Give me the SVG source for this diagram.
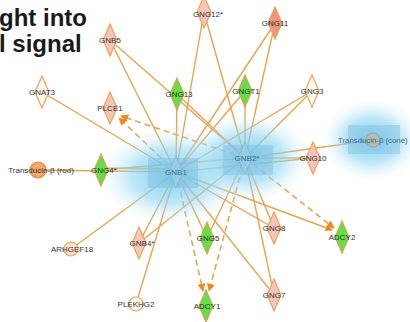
<svg xmlns="http://www.w3.org/2000/svg" width="410" height="322" viewBox="0 0 410 322">
<defs>
<radialGradient id="glow" cx="0.5" cy="0.5" r="0.5">
<stop offset="0" stop-color="#6cc8ee" stop-opacity="0.9"/>
<stop offset="0.55" stop-color="#8fd6f3" stop-opacity="0.6"/>
<stop offset="1" stop-color="#c8ecfa" stop-opacity="0"/>
</radialGradient>
<marker id="arr" viewBox="0 0 10 10" refX="9" refY="5" markerWidth="5" markerHeight="5" orient="auto">
<path d="M0,0 L10,5 L0,10 Z" fill="#f08a20"/>
</marker>
<path id="dia" d="M0,-16 L7,0 L0,16 L-7,0 Z"/>
</defs>
<style>
.e{stroke:#e6a550;stroke-width:1.4;fill:none}
.d{stroke:#e6a550;stroke-width:1.6;fill:none;stroke-dasharray:6 4}
.pk{fill:#f6c4b8;stroke:#e9a45a;stroke-width:1.2}
.sa{fill:#f19480;stroke:#e9a45a;stroke-width:1.2}
.gr{fill:#62e048;stroke:#e0a050;stroke-width:1.2}
.wh{fill:#fffaf2;stroke:#e9a45a;stroke-width:1.2}
.bl{fill:#9fd3ea;stroke:#8ab0c0;stroke-width:1}
.t{font-family:"Liberation Sans",Arial,sans-serif;font-size:8px;fill:#333;text-anchor:middle}
.tb{font-family:"Liberation Sans",Arial,sans-serif;font-size:8px;fill:#3a6c90;text-anchor:middle}
.title{font-family:"Liberation Sans",Arial,sans-serif;font-size:24px;font-weight:bold;fill:#1a1a1a}
</style>
<rect width="410" height="322" fill="#ffffff"/>
<text class="title" x="-1" y="26">ght into</text>
<text class="title" x="-1" y="52">l signal</text>
<g id="connectors">
<line class="e" x1="176" y1="172" x2="110" y2="40"/>
<line class="e" x1="245" y1="158" x2="110" y2="40"/>
<line class="e" x1="176" y1="172" x2="204" y2="12"/>
<line class="e" x1="245" y1="158" x2="204" y2="12"/>
<line class="e" x1="176" y1="172" x2="275" y2="23"/>
<line class="e" x1="245" y1="158" x2="275" y2="23"/>
<line class="e" x1="176" y1="172" x2="42" y2="92"/>
<line class="e" x1="176" y1="172" x2="177" y2="94"/>
<line class="e" x1="245" y1="158" x2="177" y2="94"/>
<line class="e" x1="176" y1="172" x2="245" y2="91"/>
<line class="e" x1="245" y1="158" x2="245" y2="91"/>
<line class="e" x1="176" y1="172" x2="312" y2="91"/>
<line class="e" x1="245" y1="158" x2="312" y2="91"/>
<line class="e" x1="176" y1="172" x2="313" y2="158"/>
<line class="e" x1="245" y1="158" x2="313" y2="158"/>
<line class="e" x1="245" y1="158" x2="373" y2="140"/>
<line class="e" x1="38" y1="170" x2="176" y2="172"/>
<line class="e" x1="101" y1="168" x2="176" y2="169"/>
<line class="e" x1="101" y1="170" x2="245" y2="158"/>
<line class="e" x1="176" y1="172" x2="139" y2="243"/>
<line class="e" x1="245" y1="158" x2="139" y2="243"/>
<line class="e" x1="176" y1="172" x2="71" y2="249"/>
<line class="e" x1="176" y1="172" x2="136" y2="304"/>
<line class="e" x1="176" y1="172" x2="207" y2="238"/>
<line class="e" x1="245" y1="158" x2="207" y2="238"/>
<line class="e" x1="176" y1="172" x2="274" y2="228"/>
<line class="e" x1="245" y1="158" x2="274" y2="228"/>
<line class="e" x1="176" y1="172" x2="274" y2="295"/>
<line class="e" x1="245" y1="158" x2="274" y2="295"/>
<line class="e" x1="176" y1="172" x2="332" y2="230" marker-end="url(#arr)"/>
<line class="d" x1="245" y1="158" x2="334" y2="228" marker-end="url(#arr)"/>
<line class="d" x1="176" y1="172" x2="119" y2="118" marker-end="url(#arr)"/>
<line class="d" x1="245" y1="158" x2="121" y2="116" marker-end="url(#arr)"/>
<line class="d" x1="176" y1="172" x2="203" y2="291" marker-end="url(#arr)"/>
<line class="d" x1="245" y1="158" x2="209" y2="291" marker-end="url(#arr)"/>
</g>
<g id="glows">
<ellipse cx="172" cy="176" rx="72" ry="48" fill="url(#glow)"/>
<ellipse cx="248" cy="158" rx="62" ry="44" fill="url(#glow)"/>
<ellipse cx="372" cy="140" rx="50" ry="40" fill="url(#glow)"/>
<rect x="148" y="158" width="50" height="30" fill="#7fbfe0" opacity="0.45"/>
<rect x="223" y="145" width="50" height="30" fill="#7fbfe0" opacity="0.45"/>
<rect x="348" y="125" width="52" height="29" fill="#7fbfe0" opacity="0.45"/>
</g>
<g id="GNB1"><use href="#dia" x="176" y="172" class="bl" opacity="0.6"/><text class="tb" x="176" y="175">GNB1</text></g>
<g id="GNB2"><use href="#dia" x="245" y="158" class="bl" opacity="0.6"/><text class="tb" x="247" y="161">GNB2*</text></g>
<g id="Transducin-cone"><circle cx="373" cy="140" r="7" fill="#c8b89a" stroke="#b09a70" stroke-width="1.2" opacity="0.7"/><text class="tb" x="338" y="143" style="text-anchor:start;font-size:7.8px">Transducin-β (cone)</text></g>
<g id="GNB5"><use href="#dia" x="110" y="40" class="pk"/><text class="t" x="110" y="43">GNB5</text></g>
<g id="GNG12"><use href="#dia" x="204" y="12" class="pk"/><text class="t" x="208" y="17">GNG12*</text></g>
<g id="GNG11"><use href="#dia" x="275" y="23" class="sa"/><text class="t" x="275" y="26">GNG11</text></g>
<g id="GNAT3"><use href="#dia" x="42" y="92" class="wh"/><text class="t" x="42" y="95">GNAT3</text></g>
<g id="PLCE1"><use href="#dia" x="110" y="108" class="pk"/><text class="t" x="110" y="111">PLCE1</text></g>
<g id="GNG13"><use href="#dia" x="177" y="94" class="gr"/><text class="t" x="179" y="97">GNG13</text></g>
<g id="GNGT1"><use href="#dia" x="245" y="91" class="gr"/><text class="t" x="246" y="94">GNGT1</text></g>
<g id="GNG3"><use href="#dia" x="312" y="91" class="wh"/><text class="t" x="312" y="94">GNG3</text></g>
<g id="GNG10"><use href="#dia" x="313" y="158" class="pk"/><text class="t" x="313" y="161">GNG10</text></g>
<g id="Transducin-rod"><circle cx="38" cy="170" r="8" fill="#f2a462" stroke="#e08a40" stroke-width="1.2"/><circle cx="38" cy="170" r="4.5" fill="none" stroke="#f7c08a" stroke-width="1"/><text class="t" x="41" y="173">Transducin-β (rod)</text></g>
<g id="GNG4"><use href="#dia" x="101" y="170" class="gr"/><text class="t" x="104" y="173">GNG4*</text></g>
<g id="GNB4"><use href="#dia" x="139" y="243" class="pk"/><text class="t" x="142" y="246">GNB4*</text></g>
<g id="ARHGEF18"><circle cx="71" cy="249" r="7" fill="#fbe3cf" stroke="#e9a45a" stroke-width="1.2"/><text class="t" x="72" y="252">ARHGEF18</text></g>
<g id="PLEKHG2"><circle cx="136" cy="304" r="7" fill="#fff8ee" stroke="#e9a45a" stroke-width="1.2"/><text class="t" x="136" y="307">PLEKHG2</text></g>
<g id="GNG5"><use href="#dia" x="207" y="238" class="gr"/><text class="t" x="208" y="241">GNG5</text></g>
<g id="ADCY1"><use href="#dia" x="206" y="306" class="gr"/><text class="t" x="207" y="309">ADCY1</text></g>
<g id="GNG8"><use href="#dia" x="274" y="228" class="pk"/><text class="t" x="274" y="231">GNG8</text></g>
<g id="ADCY2"><use href="#dia" x="342" y="237" class="gr"/><text class="t" x="342" y="240">ADCY2</text></g>
<g id="GNG7"><use href="#dia" x="274" y="295" class="pk"/><text class="t" x="274" y="298">GNG7</text></g>
</svg>
